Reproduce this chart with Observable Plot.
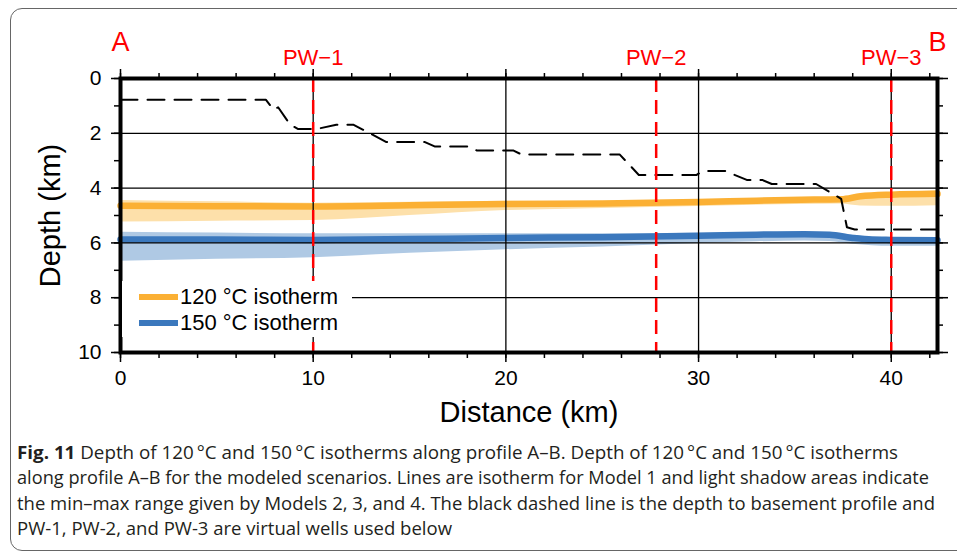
<!DOCTYPE html>
<html>
<head>
<meta charset="utf-8">
<script src="https://cdn.jsdelivr.net/npm/d3@7"></script>
<script src="https://cdn.jsdelivr.net/npm/@observablehq/plot@0.6"></script>
<style>
  html, body { margin: 0; padding: 0; background: #fff; }
  #wrap { position: relative; width: 957px; height: 553px; overflow: hidden; background: #fff; }
  #border { position: absolute; left: 10px; top: 8px; width: 1000px; height: 543px; border: 1px solid #666; border-radius: 12px; box-sizing: border-box; }
  #chart { position: absolute; left: 0; top: 0; }
  #legend { position: absolute; left: 122px; top: 281px; width: 230px; height: 56px; background: #fff; font-family: "Liberation Sans", Arial, sans-serif; font-size: 22px; color: #000; }
  .lrow { position: absolute; left: 0; height: 26px; }
  .sw { position: absolute; left: 17px; width: 39px; height: 6px; }
  .lt { position: absolute; left: 58px; white-space: nowrap; line-height: 26px; }
  .cap { position: absolute; left: 17px; white-space: nowrap; font-family: "Open Sans", "Noto Sans", sans-serif; font-size: 17.5px; line-height: 25px; color: #231f20; transform-origin: 0 50%; display: inline-block; }
</style>
</head>
<body>
<div id="wrap">
  <div id="border"></div>
  <div id="chart"></div>
</div>
<script>
// ---------- data ----------
const wellKm = [10, 27.8, 40];
const wellNames = ["PW\u22121", "PW\u22122", "PW\u22123"];
const endKm = [0, 42.4];
const endNames = ["A", "B"];

// depth to basement (black dashed)
const baseKm    = [0, 7.55, 7.95, 8.18, 8.8, 9.2, 10.2, 11.2, 12.1, 13.8, 15.8, 16.3, 18.1, 18.5, 20.4, 20.8, 25.9, 26.9, 29.9, 30.2, 31.4, 32.5, 33.3, 33.8, 36.1, 37.4, 37.7, 38.1, 42.4];
const baseDepth = [0.78, 0.78, 1.14, 1.05, 1.68, 1.84, 1.84, 1.69, 1.69, 2.32, 2.32, 2.48, 2.48, 2.63, 2.63, 2.77, 2.77, 3.52, 3.52, 3.38, 3.38, 3.70, 3.70, 3.85, 3.85, 4.39, 5.43, 5.51, 5.51];

// 120 °C isotherm (Model 1)
const km120    = [0, 5, 10, 15, 20, 25, 30, 33, 36, 37.4, 38.4, 40, 42.4];
const depth120 = [4.64, 4.66, 4.67, 4.63, 4.58, 4.56, 4.51, 4.46, 4.42, 4.41, 4.30, 4.24, 4.21];
// 120 °C min–max range (Models 2–4)
const bandKm120  = [0, 5, 10, 15, 20, 25, 30, 35, 37.4, 38.4, 40, 42.4];
const min120     = [4.45, 4.50, 4.55, 4.52, 4.48, 4.50, 4.46, 4.40, 4.37, 4.26, 4.18, 4.10];
const max120     = [5.24, 5.21, 5.18, 5.00, 4.82, 4.74, 4.67, 4.60, 4.58, 4.65, 4.66, 4.64];

// 150 °C isotherm (Model 1)
const km150    = [0, 5, 10, 15, 20, 25, 30, 33, 35.5, 36.8, 38, 39, 40, 42.4];
const depth150 = [5.88, 5.88, 5.89, 5.86, 5.82, 5.79, 5.74, 5.70, 5.68, 5.70, 5.82, 5.88, 5.89, 5.90];
// 150 °C min–max range (Models 2–4)
const min150   = [5.61, 5.64, 5.67, 5.67, 5.67, 5.67, 5.65, 5.62, 5.60, 5.62, 5.72, 5.80, 5.82, 5.82];
const max150   = [6.67, 6.60, 6.54, 6.38, 6.25, 6.15, 6.02, 5.96, 5.93, 5.95, 6.05, 6.10, 6.12, 6.12];

const xMajor = [0, 10, 20, 30, 40];
const yMajor = [0, 2, 4, 6, 8, 10];
const xGrid = [10, 20, 30, 40];
const yGrid = [2, 4, 6, 8];

const legendLabels = ["120 \u00B0C isotherm", "150 \u00B0C isotherm"];
const captionLines = [
  ["Fig. 11", "  Depth of 120\u2009\u00B0C and 150\u2009\u00B0C isotherms along profile A\u2013B. Depth of 120\u2009\u00B0C and 150\u2009\u00B0C isotherms"],
  ["", "along profile A\u2013B for the modeled scenarios. Lines are isotherm for Model 1 and light shadow areas indicate"],
  ["", "the min\u2013max range given by Models 2, 3, and 4. The black dashed line is the depth to basement profile and"],
  ["", "PW-1, PW-2, and PW-3 are virtual wells used below"]
];

// ---------- colors ----------
const C120 = "#fbb034", C120b = "#fde0aa";
const C150 = "#3b78bd", C150b = "#afc9e4";

// ---------- tables ----------
const base = baseKm.map((k, i) => ({k, d: baseDepth[i]}));
const l120 = km120.map((k, i) => ({k, d: depth120[i]}));
const b120 = bandKm120.map((k, i) => ({k, lo: min120[i], hi: max120[i]}));
const l150 = km150.map((k, i) => ({k, d: depth150[i]}));
const b150 = km150.map((k, i) => ({k, lo: min150[i], hi: max150[i]}));
const wells = wellKm.map((k, i) => ({k, name: wellNames[i]}));
const ends = endKm.map((k, i) => ({k, name: endNames[i]}));

const noLabel = () => "";
const FONT = "'Liberation Sans', Arial, Helvetica, sans-serif";

const chart = Plot.plot({
  width: 957,
  height: 440,
  marginLeft: 120,
  marginRight: 20,
  marginTop: 78,
  marginBottom: 88,
  x: {domain: [0, 42.4]},
  y: {domain: [0, 10], reverse: true},
  style: {fontFamily: FONT, fontSize: "21px", color: "#000", background: "transparent", overflow: "visible"},
  marks: [
    Plot.areaY(b120, {x: "k", y1: "lo", y2: "hi", fill: C120b, curve: "monotone-x"}),
    Plot.areaY(b150, {x: "k", y1: "lo", y2: "hi", fill: C150b, curve: "monotone-x"}),
    Plot.line(l120, {x: "k", y: "d", stroke: C120, strokeWidth: 6.5, curve: "monotone-x"}),
    Plot.line(l150, {x: "k", y: "d", stroke: C150, strokeWidth: 6.5, curve: "monotone-x"}),
    Plot.gridX({ticks: xGrid, stroke: "#000", strokeOpacity: 1, strokeWidth: 1.3}),
    Plot.gridY({ticks: yGrid, stroke: "#000", strokeOpacity: 1, strokeWidth: 1.3}),
    Plot.line(base, {x: "k", y: "d", stroke: "#000", strokeWidth: 2, strokeDasharray: "17,10"}),
    Plot.ruleX(wells, {x: "k", stroke: "#ff0000", strokeWidth: 2.5, strokeDasharray: "14,8"}),
    // bottom axis
    Plot.axisX({anchor: "bottom", ticks: d3.range(0, 43, 2), tickSize: 6, tickFormat: noLabel, strokeWidth: 1.5, label: null}),
    Plot.axisX({anchor: "bottom", ticks: xMajor, tickSize: 10, tickPadding: 8, fontSize: 21, strokeWidth: 1.5, label: null}),
    // top axis (ticks only)
    Plot.axisX({anchor: "top", ticks: d3.range(0, 43, 2), tickSize: 6, tickFormat: noLabel, strokeWidth: 1.5, label: null}),
    Plot.axisX({anchor: "top", ticks: xMajor, tickSize: 10, tickFormat: noLabel, strokeWidth: 1.5, label: null}),
    // left axis
    Plot.axisY({anchor: "left", ticks: d3.range(0, 11, 1), tickSize: 6, tickFormat: noLabel, strokeWidth: 1.5, label: null}),
    Plot.axisY({anchor: "left", ticks: yMajor, tickSize: 9, tickPadding: 10, fontSize: 21, strokeWidth: 1.5, label: null}),
    // right axis (ticks only)
    Plot.axisY({anchor: "right", ticks: d3.range(0, 11, 1), tickSize: 5, tickFormat: noLabel, strokeWidth: 1.5, label: null}),
    Plot.axisY({anchor: "right", ticks: yMajor, tickSize: 10, tickFormat: noLabel, strokeWidth: 1.5, label: null}),
    Plot.frame({stroke: "#000", strokeWidth: 4}),
    // labels
    Plot.text(wells, {x: "k", text: "name", frameAnchor: "top", lineAnchor: "middle", dy: -21, fill: "#ff0000", fontSize: 22}),
    Plot.text(ends, {x: "k", text: "name", frameAnchor: "top", lineAnchor: "middle", dy: -36, fill: "#ff0000", fontSize: 27}),
    Plot.text(["Distance (km)"], {text: d => d, frameAnchor: "bottom", lineAnchor: "middle", textAnchor: "middle", dy: 60, fontSize: 29}),
    Plot.text(["Depth (km)"], {text: d => d, frameAnchor: "left", lineAnchor: "middle", textAnchor: "middle", dx: -70, rotate: -90, fontSize: 29})
  ]
});
document.getElementById("chart").appendChild(chart);

// ---------- legend ----------
const wrap = document.getElementById("wrap");
const legend = document.createElement("div");
legend.id = "legend";
[C120, C150].forEach((c, i) => {
  const row = document.createElement("div");
  row.className = "lrow";
  row.style.top = (3 + i * 26) + "px";
  const sw = document.createElement("div");
  sw.className = "sw";
  sw.style.background = c;
  sw.style.top = "10px";
  const t = document.createElement("div");
  t.className = "lt";
  t.textContent = legendLabels[i];
  row.appendChild(sw);
  row.appendChild(t);
  legend.appendChild(row);
});
wrap.appendChild(legend);

// ---------- caption ----------
const capTops = [439.5, 465, 490.5, 516];
const capWidths = [881, 912, 918, 435];
captionLines.forEach((parts, i) => {
  const d = document.createElement("div");
  d.className = "cap";
  d.style.top = capTops[i] + "px";
  if (parts[0]) {
    const b = document.createElement("b");
    b.textContent = parts[0];
    d.appendChild(b);
  }
  d.appendChild(document.createTextNode(parts[1]));
  wrap.appendChild(d);
  const w = d.getBoundingClientRect().width;
  d.style.transform = `scaleX(${capWidths[i] / w})`;
});
</script>
</body>
</html>
